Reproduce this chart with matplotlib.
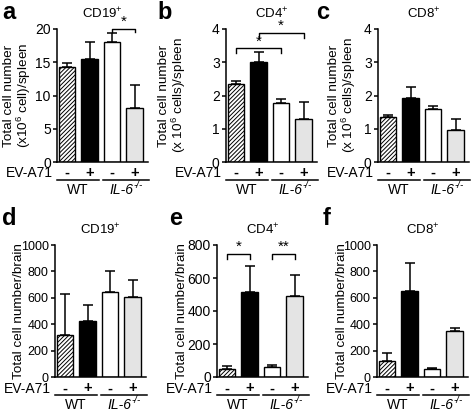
import matplotlib
matplotlib.use("Agg")
import matplotlib.pyplot as plt

plt.rcParams['font.family'] = ['Liberation Sans', 'DejaVu Sans']
plt.rcParams['hatch.linewidth'] = 0.7
plt.rcParams['mathtext.fontset'] = 'custom'
plt.rcParams['mathtext.rm'] = 'Liberation Sans'
plt.rcParams['mathtext.it'] = 'Liberation Sans:italic'

infection = ['-', '+', '-', '+']

# spleen
cd19_spleen = [14.3, 15.5, 18.0, 8.1]
cd19_spleen_err = [0.6, 2.5, 1.4, 3.5]
cd4_spleen = [2.35, 3.0, 1.78, 1.3]
cd4_spleen_err = [0.1, 0.3, 0.1, 0.5]
cd8_spleen = [1.35, 1.92, 1.6, 0.97]
cd8_spleen_err = [0.07, 0.35, 0.07, 0.33]

# brain
cd19_brain = [320, 425, 645, 605]
cd19_brain_err = [310, 120, 155, 130]
cd4_brain = [50, 515, 62, 490]
cd4_brain_err = [18, 155, 13, 130]
cd8_brain = [125, 650, 58, 345]
cd8_brain_err = [60, 215, 8, 25]

fills = ['white', 'black', 'white', '#e4e4e4']
hatches = ['////////', None, None, None]

W, H = 472, 413
fig = plt.figure(figsize=(W / 100, H / 100), dpi=100)


def make_ax(left, top, bottom, width=91):
    return fig.add_axes([left / W, 1 - bottom / H, width / W, (bottom - top) / H])


def bracket(ax, x0, x1, y, leg, label):
    ax.plot([x0, x0, x1, x1], [y - leg, y, y, y - leg], color='black', lw=1.0,
            clip_on=False)
    ax.text((x0 + x1) / 2, y, label, ha='center', va='bottom', fontsize=11)


def panel(ax, letter, lx, ly, title, vals, errs, ymax, step, ylabel, labx,
          ticksize=10, row_off=7.8):
    x = range(len(vals))
    for i in x:
        ax.bar(i, vals[i], width=0.72, color=fills[i], edgecolor='black',
               linewidth=1.0, hatch=hatches[i], zorder=2)
    ax.errorbar(list(x), vals, yerr=[[0] * len(vals), errs], fmt='none',
                ecolor='black', elinewidth=1.1, capsize=3.5, capthick=1.1, zorder=1)
    ax.set_xlim(-0.45, 3.6)
    ax.set_ylim(0, ymax)
    ax.set_yticks([i * step for i in range(int(ymax / step) + 1)])
    ax.set_xticks([])
    for s in ['top', 'right']:
        ax.spines[s].set_visible(False)
    for s in ['left', 'bottom']:
        ax.spines[s].set_linewidth(1.1)
    ax.tick_params(axis='y', length=3, width=1.1, labelsize=ticksize, pad=1.5)
    ax.set_ylabel(ylabel, fontsize=9.7, linespacing=1.0)
    ax.yaxis.set_label_coords(labx, 0.5)
    ax.set_title(title, fontsize=9.5, pad=8)
    fig.text(lx / W, 1 - ly / H, letter, fontsize=17, fontweight='bold',
             ha='left', va='baseline')

    # x-axis annotations
    ax.annotate('EV-A71', xy=(0, 0), xycoords='axes fraction',
                xytext=(-3, -row_off - 0.3), textcoords='offset points',
                ha='right', va='center', fontsize=10)
    for i, s in enumerate(infection):
        ax.annotate(s, xy=(i, 0), xycoords=('data', 'axes fraction'),
                    xytext=(0, -row_off), textcoords='offset points', ha='center',
                    va='center', fontsize=10.5, fontweight='bold')
    line_y = -13 / 72 * 100 / ax.bbox.height
    for a, b in [(-0.45, 1.4), (1.6, 3.65)]:
        ax.plot([a, b], [line_y, line_y], color='black', lw=1.1,
                transform=ax.get_xaxis_transform(), clip_on=False)
    ax.annotate('WT', xy=(0.475, 0), xycoords=('data', 'axes fraction'),
                xytext=(0, -20), textcoords='offset points', ha='center',
                va='center', fontsize=10)
    ax.annotate('IL-6', xy=(2.625, 0), xycoords=('data', 'axes fraction'),
                xytext=(5, -20), textcoords='offset points', ha='right',
                va='center', fontsize=10, style='italic')
    ax.annotate('-/-', xy=(2.625, 0), xycoords=('data', 'axes fraction'),
                xytext=(5, -16.5), textcoords='offset points', ha='left',
                va='center', fontsize=7, style='italic')


spleen_a = 'Total cell number\n(x10$^6$ cell)/spleen'
spleen_bc = 'Total cell number\n(x 10$^6$ cells)/spleen'
brain = 'Total cell number/brain'

ax_a = make_ax(57, 29, 162)
panel(ax_a, 'a', 2, 19, 'CD19$^{+}$', cd19_spleen, cd19_spleen_err, 20, 5,
      spleen_a, -0.26)
bracket(ax_a, 2, 3, 20, 0.5, '*')

ax_b = make_ax(226, 29, 162)
panel(ax_b, 'b', 157, 19, 'CD4$^{+}$', cd4_spleen, cd4_spleen_err, 4, 1,
      spleen_bc, -0.42)
bracket(ax_b, 0, 2, 3.42, 0.15, '*')
bracket(ax_b, 1, 3, 3.88, 0.15, '*')

ax_c = make_ax(378, 29, 162)
panel(ax_c, 'c', 316, 19, 'CD8$^{+}$', cd8_spleen, cd8_spleen_err, 4, 1,
      spleen_bc, -0.22)

ax_d = make_ax(55, 245, 377)
panel(ax_d, 'd', 2, 225, 'CD19$^{+}$', cd19_brain, cd19_brain_err, 1000, 200,
      brain, -0.33, 9, 8.2)

ax_e = make_ax(217, 245, 377)
panel(ax_e, 'e', 169, 225, 'CD4$^{+}$', cd4_brain, cd4_brain_err, 800, 200,
      brain, -0.32, 10, 8.2)
bracket(ax_e, 0, 1, 745, 30, '*')
bracket(ax_e, 2, 3, 745, 30, '**')

ax_f = make_ax(377, 245, 377)
panel(ax_f, 'f', 323, 225, 'CD8$^{+}$', cd8_brain, cd8_brain_err, 1000, 200,
      brain, -0.32, 9, 8.2)

fig.savefig('out.png', dpi=100)
